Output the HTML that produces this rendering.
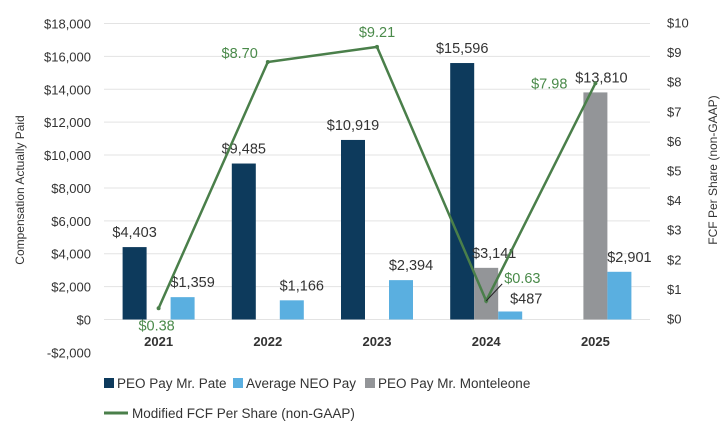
<!DOCTYPE html>
<html><head><meta charset="utf-8"><style>
body{margin:0;background:#fff;}
svg{display:block;font-family:"Liberation Sans",sans-serif;}
</style></head><body>
<svg id="chart" width="725" height="422"></svg>
<script>
const categories=["2021","2022","2023","2024","2025"];
const pateValues=[4403,9485,10919,15596,null];
const monteleoneValues=[null,null,null,3141,13810];
const neoValues=[1359,1166,2394,487,2901];
const fcfValues=[0.38,8.70,9.21,0.63,7.98];
const leftTicks=[18000,16000,14000,12000,10000,8000,6000,4000,2000,0,-2000];
const rightTicks=[10,9,8,7,6,5,4,3,2,1,0];

const NS="http://www.w3.org/2000/svg";
const svg=document.getElementById('chart');
const X0=104,X1=650,Y0=319.5,YTOP=23.5;
const band=(X1-X0)/categories.length;
function yL(v){return Y0-(v/18000)*(Y0-YTOP);}
function yR(v){return Y0-(v/10)*(Y0-YTOP);}
function xC(i){return X0+band*(i+0.5);}
function mk(t,a,txt){const e=document.createElementNS(NS,t);for(const k in a)e.setAttribute(k,a[k]);if(txt!==undefined)e.textContent=txt;svg.appendChild(e);return e;}
function fmt(v){return "$"+v.toLocaleString("en-US");}

leftTicks.forEach(t=>{
  if(t>=0){const g=mk('line',{x1:X0,x2:X1,y1:yL(t),y2:yL(t),stroke:'#e3e3e3','stroke-width':1});
  }
  const l=mk('text',{x:91,y:yL(t)+5,'text-anchor':'end','font-size':13,fill:'#333'},(t<0?"-$":"$")+Math.abs(t).toLocaleString("en-US"));
  
});
rightTicks.forEach(t=>{
  const l=mk('text',{x:667,y:yR(t)+4,'font-size':13,fill:'#333'},"$"+t);
  
});
const bw=24;
categories.forEach((c,i)=>{
  const cx=xC(i);
  const l=mk('text',{x:cx,y:346,'text-anchor':'middle','font-size':13,'font-weight':'bold',fill:'#333'},c);
  
  const series=[[pateValues,'#0d3a5c',-1.5],[monteleoneValues,'#939598',-0.5],[neoValues,'#5aafe0',0.5]];
  series.forEach(([arr,col,off])=>{
    const v=arr[i];if(v==null)return;
    const x=cx+off*bw;
    const r=mk('rect',{x:x,y:Math.min(yL(v),Y0),width:bw,height:Math.abs(Y0-yL(v)),fill:col});
    
    let lx=x+bw/2,ly=yL(v)-10;
    if(col==='#5aafe0'){lx=x+bw/2+10;}
    if(col==='#5aafe0'&&i===3){lx=x+bw/2+16;ly=yL(v)-8;}
    if(col==='#939598'&&i===3){lx=x+bw/2+8;}
    if(col==='#939598'&&i===4){lx=x+bw/2+6;}
    const t=mk('text',{x:lx,y:ly,'text-anchor':'middle','font-size':14.5,fill:'#333'},fmt(v));
    
  });
});
const pts=fcfValues.map((v,i)=>xC(i)+","+yR(v)).join(" ");
const pl=mk('polyline',{points:pts,fill:'none',stroke:'#4a7f4a','stroke-width':2.5,'stroke-linejoin':'miter'});

const offs=[[-2,22,'middle'],[-10,-4,'end'],[0,-10,'middle'],[18,-18,'start'],[-28,5,'end']];
fcfValues.forEach((v,i)=>{
  const x=xC(i),y=yR(v);
  const d=mk('circle',{cx:x,cy:y,r:2,fill:'#4a7f4a'});
  
  if(i===3){const ll=mk('line',{x1:x,y1:y,x2:x+16,y2:y-17,stroke:'#222','stroke-width':1});
  }
  const t=mk('text',{x:x+offs[i][0],y:y+offs[i][1],'text-anchor':offs[i][2],'font-size':14.5,fill:'#4a8a4a'},"$"+v.toFixed(2));
  
});
const lt=mk('text',{x:24,y:190,'text-anchor':'middle','font-size':12,fill:'#333',transform:'rotate(-90 24 190)'},"Compensation Actually Paid");

const rt=mk('text',{x:717,y:170,'text-anchor':'middle','font-size':12,fill:'#333',transform:'rotate(-90 717 170)'},"FCF Per Share (non-GAAP)");

const leg=[[104,'#0d3a5c',"PEO Pay Mr. Pate"],[233,'#5aafe0',"Average NEO Pay"],[365,'#939598',"PEO Pay Mr. Monteleone"]];
leg.forEach(([x,c,s])=>{
  const r=mk('rect',{x:x,y:378,width:10,height:10,fill:c});
  
  const t=mk('text',{x:x+13,y:388,'font-size':13.5,fill:'#333'},s);
  
});
const ll2=mk('line',{x1:104,x2:128,y1:413,y2:413,stroke:'#4a7f4a','stroke-width':3});

const lt2=mk('text',{x:132,y:418,'font-size':13.5,fill:'#333'},"Modified FCF Per Share (non-GAAP)");

</script>
</body></html>
